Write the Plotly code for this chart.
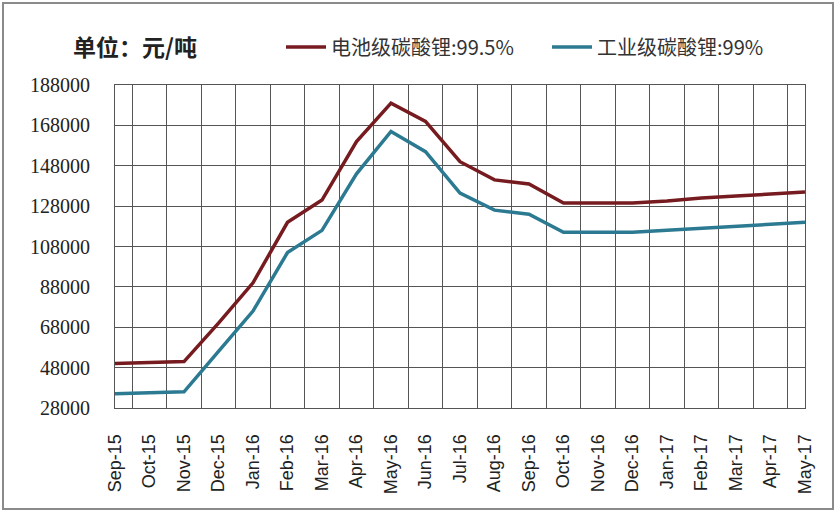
import plotly.graph_objects as go

months = ["Sep-15", "Oct-15", "Nov-15", "Dec-15", "Jan-16", "Feb-16", "Mar-16",
          "Apr-16", "May-16", "Jun-16", "Jul-16", "Aug-16", "Sep-16", "Oct-16",
          "Nov-16", "Dec-16", "Jan-17", "Feb-17", "Mar-17", "Apr-17", "May-17"]
battery = [50000, 50500, 51000, 70000, 90000, 120000, 131000, 160000, 179000, 170000,
           150000, 141000, 139000, 129500, 129500, 129500, 130500, 132000, 133000, 134000, 135000]
industrial = [35000, 35500, 36000, 56000, 76000, 105000, 116000, 144000, 165000, 155000,
              134500, 126000, 124000, 115000, 115000, 115000, 116000, 117000, 118000, 119000, 120000]
name_battery = "电池级碳酸锂:99.5%"
name_industrial = "工业级碳酸锂:99%"
title_text = "单位：元/吨"

fig = go.Figure()
fig.add_trace(go.Scatter(x=months, y=battery, mode="lines", name=name_battery, legend="legend",
                         line=dict(color="#761b1f", width=3.5)))
fig.add_trace(go.Scatter(x=months, y=industrial, mode="lines", name=name_industrial, legend="legend2",
                         line=dict(color="#2b7a92", width=3.5)))

W, H = 840, 516
L, T = 115, 85
R = W - 805
B = H - 408
pw, ph = W - L - R, H - T - B

def px_x(p):
    return (p - L) / pw

def px_y(p):
    return (H - B - p) / ph

leg_font = dict(size=20, family="Noto Sans CJK SC", color="#333")
fig.update_layout(
    width=W, height=H,
    margin=dict(l=L, r=R, t=T, b=B, autoexpand=False),
    paper_bgcolor="white", plot_bgcolor="white",
    font=dict(family="Noto Sans CJK SC", color="#222"),
    showlegend=True,
    legend=dict(orientation="h", x=px_x(281), y=px_y(47), xanchor="left", yanchor="middle",
                font=leg_font, bgcolor="rgba(0,0,0,0)", itemwidth=40),
    legend2=dict(orientation="h", x=px_x(547), y=px_y(47), xanchor="left", yanchor="middle",
                 font=leg_font, bgcolor="rgba(0,0,0,0)", itemwidth=40),
    annotations=[dict(text="<b>" + title_text + "</b>", x=px_x(71), y=px_y(46),
                      xref="paper", yref="paper", xanchor="left", yanchor="middle",
                      showarrow=False, font=dict(size=23, family="Noto Sans CJK SC", color="#222"))],
    shapes=[dict(type="rect", xref="paper", yref="paper",
                 x0=px_x(3), x1=px_x(833), y0=px_y(509), y1=px_y(3),
                 line=dict(color="#8a8a8a", width=2), fillcolor="rgba(0,0,0,0)", layer="below")],
)

fig.update_xaxes(type="category", tickson="boundaries", showgrid=True, gridcolor="#555",
                 gridwidth=1, showline=True, linecolor="#555", linewidth=1, mirror=True,
                 tickangle=-90, ticks="", ticklabelstandoff=18, automargin=False,
                 tickfont=dict(size=18, family="Liberation Sans", color="#222"))
fig.update_yaxes(range=[28000, 188000], tick0=28000, dtick=20000, showgrid=True,
                 gridcolor="#555", gridwidth=1, showline=True, linecolor="#555", linewidth=1,
                 mirror=True, ticks="", ticklabelstandoff=20, zeroline=False, automargin=False,
                 tickformat="d",
                 tickfont=dict(size=20, family="Liberation Serif", color="#222"))

fig.write_html("out.html",
               config={"displayModeBar": False},
               post_script="document.body.style.margin='0px';"
                           "document.documentElement.style.overflow='hidden';")
